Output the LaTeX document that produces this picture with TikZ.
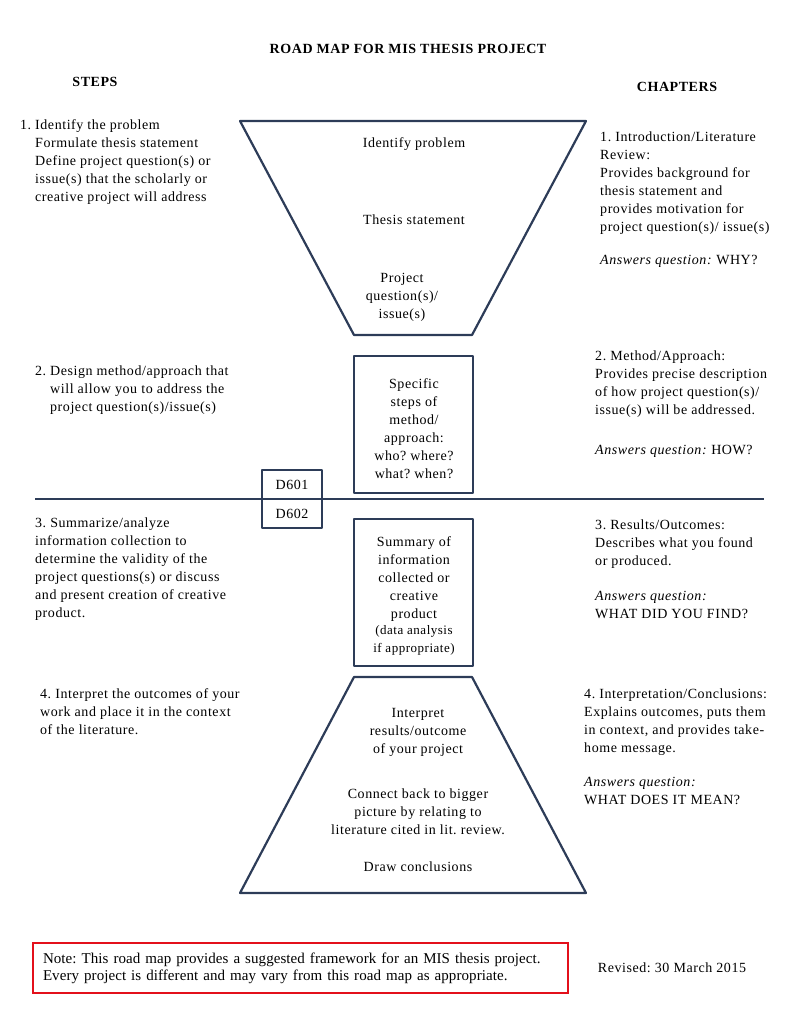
\documentclass[tikz,border=0pt]{standalone}
\usepackage{fontspec}
\setmainfont[LetterSpace=4]{Liberation Serif}
\frenchspacing
\begin{document}
\begin{tikzpicture}[x=1pt, y=-1pt,
    txt/.style={inner sep=0pt, anchor=west, align=left, yshift=-1.5pt, font=\fontsize{14}{18}\selectfont},
    ctxt/.style={inner sep=0pt, align=center, yshift=-1.5pt, font=\fontsize{14}{18}\selectfont},
    head/.style={inner sep=0pt, font=\fontsize{14}{16}\selectfont\bfseries},
    outline/.style={draw=lineColour, line width=2.2pt, line join=round},
    stepbox/.style={outline, rectangle, inner sep=0pt, align=center, font=\fontsize{14}{18}\selectfont}]
    \definecolor{lineColour}{HTML}{2D3C58}
    \definecolor{noteColour}{HTML}{E3101B}

    \def\hang{15pt}

    \useasboundingbox (0,0) rectangle (790,1022);

    % Headings
    \node[head] (title) at (408,49) {ROAD MAP FOR MIS THESIS PROJECT};
    \node[head] (steps) at (95,82) {STEPS};
    \node[head] (chapters) at (677,87) {CHAPTERS};

    % Top funnel
    \coordinate (topA) at (240,121);
    \coordinate (topB) at (586,121);
    \coordinate (topC) at (472,335);
    \coordinate (topD) at (354,335);
    \draw[outline] (topA) -- (topB) -- (topC) -- (topD) -- cycle;
    \node[ctxt] (problem) at (414,143) {Identify problem};
    \node[ctxt] (thesis) at (414,218) {Thesis statement};
    \node[ctxt] (questions) at (402,296) {Project\\question(s)/\\issue(s)};

    % Middle boxes
    \node[stepbox, minimum width=119pt, minimum height=137pt] (method) at (413.5,424.5) {};
    \node[ctxt] (methodText) at (414,427.5)
        {Specific\\steps of\\method/\\approach:\\who? where?\\what? when?};
    \node[stepbox, minimum width=119pt, minimum height=147pt] (summary) at (413.5,592.5) {};
    \node[ctxt] (summaryText) at (414,594.5)
        {Summary of\\information\\collected or\\creative\\product\\[-2pt]
         {\fontsize{13}{18}\selectfont(data analysis}\\{\fontsize{13}{18}\selectfont if appropriate)}};

    % Dividing line and course codes
    \coordinate (lineL) at (35,499);
    \coordinate (lineR) at (764,499);
    \draw[outline] (lineL) -- (lineR);
    \node[stepbox, minimum width=60pt, minimum height=29pt] (dsix) at (292,484.5) {D601};
    \node[stepbox, minimum width=60pt, minimum height=29pt] (dtwo) at (292,513.5) {D602};

    % Bottom funnel
    \coordinate (botA) at (354,677);
    \coordinate (botB) at (472,677);
    \coordinate (botC) at (586,893);
    \coordinate (botD) at (240,893);
    \draw[outline] (botA) -- (botB) -- (botC) -- (botD) -- cycle;
    \node[ctxt] (interpret) at (418,731) {Interpret\\results/outcome\\of your project};
    \node[ctxt] (connect) at (418,810) {Connect back to bigger\\picture by relating to\\literature cited in lit. review.};
    \node[ctxt] (conclude) at (418,865) {Draw conclusions};

    % Steps
    \node[txt] (stepOne) at (20,160) {\begin{tabular}{@{}p{\hang}@{}l@{}}
        1. & Identify the problem\\ & Formulate thesis statement\\
        & Define project question(s) or\\ & issue(s) that the scholarly or\\
        & creative project will address\end{tabular}};
    \node[txt] (stepTwo) at (35,388) {\begin{tabular}{@{}p{\hang}@{}l@{}}
        2. & Design method/approach that\\ & will allow you to address the\\
        & project question(s)/issue(s)\end{tabular}};
    \node[txt] (stepThree) at (35,568) {3. Summarize/analyze\\information collection to\\
        determine the validity of the\\project questions(s) or discuss\\
        and present creation of creative\\product.};
    \node[txt] (stepFour) at (40,710) {4. Interpret the outcomes of your\\work and place it in the context\\
        of the literature.};

    % Chapters
    \node[txt] (chapOne) at (600,198) {1. Introduction/Literature\\Review:\\Provides background for\\
        thesis statement and\\provides motivation for\\project question(s)/ issue(s)\\[15pt]
        \textit{Answers question:} WHY?};
    \node[txt] (chapTwo) at (595,403) {2. Method/Approach:\\Provides precise description\\
        of how project question(s)/\\issue(s) will be addressed.\\[22pt]
        \textit{Answers question:} HOW?};
    \node[txt] (chapThree) at (595,568) {3. Results/Outcomes:\\Describes what you found\\
        or produced.\\[17pt]\textit{Answers question:}\\WHAT DID YOU FIND?};
    \node[txt] (chapFour) at (584,745) {4. Interpretation/Conclusions:\\Explains outcomes, puts them\\
        in context, and provides take-\\home message.\\[16pt]
        \textit{Answers question:}\\WHAT DOES IT MEAN?};

    % Note
    \node[draw=noteColour, line width=2.5pt, minimum width=535pt, minimum height=50pt,
        inner xsep=10pt, inner ysep=0pt, text width=515pt, align=left,
        font=\fontsize{15}{17}\selectfont\addfontfeature{LetterSpace=0.5}] (note) at (300.5,968)
        {Note: This road map provides a suggested framework for an MIS thesis project.\\
         Every project is different and may vary from this road map as appropriate.};
    \node[inner sep=0pt, font=\fontsize{14}{17}\selectfont] (revised) at (672,968) {Revised: 30 March 2015};

\end{tikzpicture}
\end{document}
